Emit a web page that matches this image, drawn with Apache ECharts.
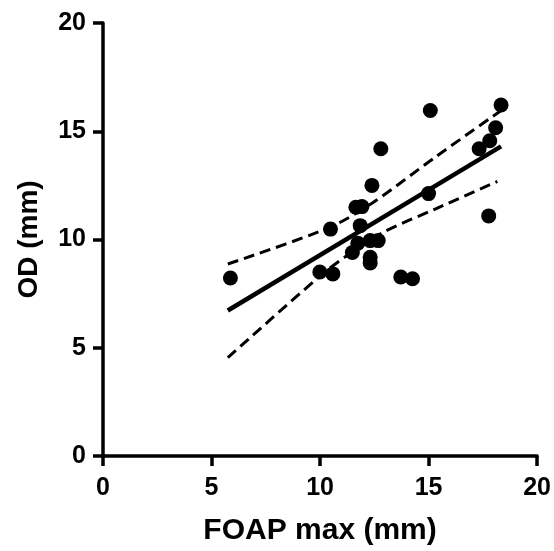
<!DOCTYPE html>
<html>
<head>
<meta charset="utf-8">
<script src="https://cdn.jsdelivr.net/npm/echarts@6/dist/echarts.min.js"></script>
<style>html,body{margin:0;padding:0;background:#fff}#c{width:554px;height:551px}</style>
</head>
<body>
<div id="c"></div>
<script>
// Data
var foapMax = [5.87, 9.99, 10.59, 10.48, 11.65, 11.93, 11.85, 11.74, 11.49, 12.31, 12.68, 12.31, 12.31, 12.39, 12.80, 13.72, 14.26, 15.00, 15.08, 17.33, 17.82, 18.09, 18.34, 17.77];
var odValues = [8.22, 8.50, 8.41, 10.48, 11.49, 11.52, 10.64, 9.83, 9.40, 9.95, 9.95, 9.18, 8.92, 12.50, 14.19, 8.27, 8.19, 12.12, 15.96, 14.19, 14.56, 15.16, 16.21, 11.09];
var fitX = [5.75, 18.34];
var fitY = [6.72, 14.30];
var upperX = [5.75, 10.42, 12.41, 15.33, 18.33];
var upperY = [8.87, 10.55, 11.69, 13.82, 15.95];
var lowerX = [5.75, 9.95, 11.34, 12.88, 15.33, 18.17];
var lowerY = [4.54, 8.27, 9.33, 10.32, 11.42, 12.68];
var xTicks = [0, 5, 10, 15, 20];
var yTicks = [0, 5, 10, 15, 20];

function pairs(a, b) { return a.map(function (v, i) { return [v, b[i]]; }); }

var font = '"Liberation Sans", Arial, Helvetica, sans-serif';
var axisCommon = {
  type: 'value', interval: 5,
  axisLine: { show: true, onZero: false, lineStyle: { color: '#000', width: 3.5 } },
  axisTick: { show: true, inside: false, length: 10, lineStyle: { color: '#000', width: 3.5 } },
  splitLine: { show: false },
  axisLabel: { color: '#000', fontFamily: font, fontWeight: 'bold', fontSize: 25 },
  nameLocation: 'middle'
};

var chart = echarts.init(document.getElementById('c'), null, { renderer: 'canvas' });
chart.setOption({
  animation: false,
  backgroundColor: '#fff',
  grid: { left: 103, right: 16, top: 23, bottom: 90, containLabel: false },
  xAxis: Object.assign({}, axisCommon, {
    min: xTicks[0], max: xTicks[xTicks.length - 1],
    name: 'FOAP max (mm)', nameGap: 60,
    nameTextStyle: { color: '#000', fontFamily: font, fontWeight: 'bold', fontSize: 30 },
    axisLabel: Object.assign({}, axisCommon.axisLabel, { margin: 20 })
  }),
  yAxis: Object.assign({}, axisCommon, {
    min: yTicks[0], max: yTicks[yTicks.length - 1],
    name: 'OD (mm)', nameGap: 60,
    nameTextStyle: { color: '#000', fontFamily: font, fontWeight: 'bold', fontSize: 28 },
    axisLabel: Object.assign({}, axisCommon.axisLabel, { margin: 17 })
  }),
  series: [
    { type: 'line', data: pairs(upperX, upperY), smooth: 0.3, symbol: 'none',
      lineStyle: { color: '#000', width: 3, type: [11, 6] }, z: 2 },
    { type: 'line', data: pairs(lowerX, lowerY), smooth: 0.3, symbol: 'none',
      lineStyle: { color: '#000', width: 3, type: [11, 6] }, z: 2 },
    { type: 'line', data: pairs(fitX, fitY), symbol: 'none',
      lineStyle: { color: '#000', width: 4.5 }, z: 3 },
    { type: 'scatter', data: pairs(foapMax, odValues), symbol: 'circle', symbolSize: 15,
      itemStyle: { color: '#000', opacity: 1 }, z: 4 }
  ]
});
</script>
</body>
</html>
